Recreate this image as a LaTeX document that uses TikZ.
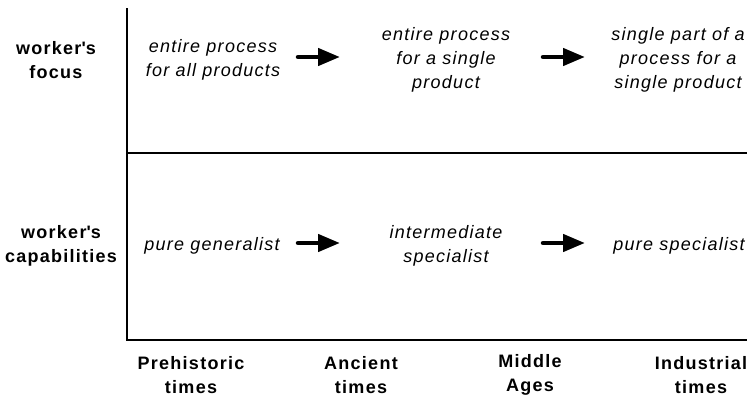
\documentclass[tikz,border=0pt]{standalone}
\usepackage{fontspec}
\setmainfont{Liberation Sans}[LetterSpace=7]
\usetikzlibrary{arrows.meta}
\begin{document}
\begin{tikzpicture}[x=1pt,y=-1pt,
  txt/.style={font=\fontsize{18}{24}\selectfont\itshape,align=center,inner sep=0pt},
  lbl/.style={font=\fontsize{18}{24}\selectfont\bfseries,align=center,inner sep=0pt},
  axis/.style={line width=1.3pt},
  bigarrow/.style={line width=4.5pt,line cap=round,-{Triangle[length=22pt,width=17pt]}}]
\useasboundingbox (0,0) rectangle (747,399);
\coordinate (vt) at (127,8);
\coordinate (vb) at (127,340);
\coordinate (br) at (747,340);
\coordinate (ml) at (127,153);
\coordinate (mr) at (747,153);
\draw[axis] (vt) -- (vb) -- (br);
\draw[axis] (ml) -- (mr);
% row labels
\node[lbl] (rf) at (56,60) {worker\textquotesingle s\\focus};
\node[lbl] (rc) at (61,246) {worker\textquotesingle s\\capabilities};
% top row
\node[txt] (t1) at (213,60) {entire process\\for all products};
\node[txt] (t2) at (446,60) {entire process\\for a single\\product};
\node[txt] (t3) at (678,60) {single part of a\\process for a\\single product};
% bottom row
\node[txt] (b1) at (212,246) {pure generalist};
\node[txt] (b2) at (446,246) {intermediate\\specialist};
\node[txt] (b3) at (679,246) {pure specialist};
% arrows
\coordinate (a1s) at (298,57); \coordinate (a1e) at (340,57);
\coordinate (a2s) at (543,57); \coordinate (a2e) at (585,57);
\coordinate (a3s) at (298,243); \coordinate (a3e) at (340,243);
\coordinate (a4s) at (543,243); \coordinate (a4e) at (585,243);
\draw[bigarrow] (a1s) -- (a1e);
\draw[bigarrow] (a2s) -- (a2e);
\draw[bigarrow] (a3s) -- (a3e);
\draw[bigarrow] (a4s) -- (a4e);
% time axis labels
\node[lbl] (x1) at (191,375) {Prehistoric\\times};
\node[lbl] (x2) at (361,375) {Ancient\\times};
\node[lbl] (x3) at (530,375) {Middle\\Ages};
\node[lbl] (x4) at (701,375) {Industrial\\times};
\end{tikzpicture}
\end{document}
